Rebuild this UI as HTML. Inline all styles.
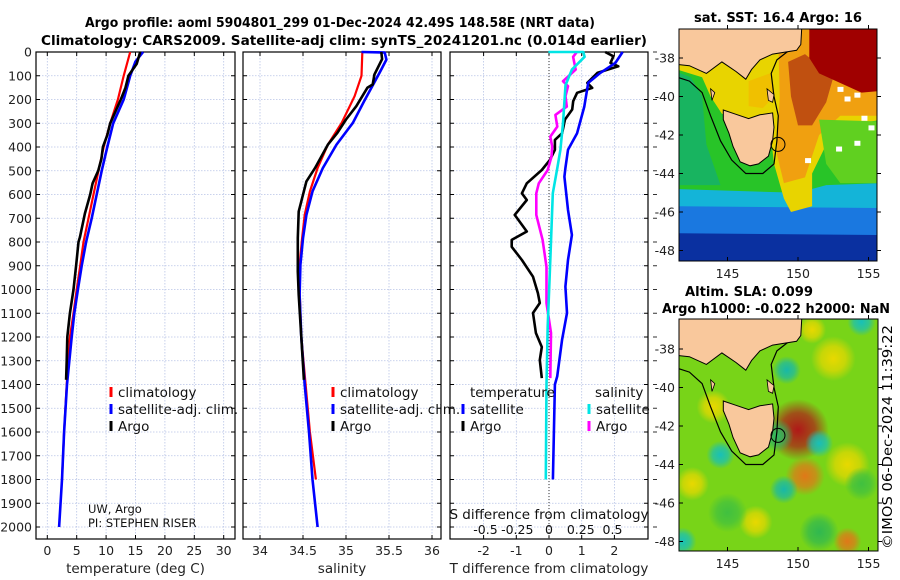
<!DOCTYPE html>
<html><head><meta charset="utf-8"><style>
html,body{margin:0;padding:0;background:#fff;}
svg{display:block;font-family:"DejaVu Sans","Liberation Sans",sans-serif;}
</style></head><body>
<svg id="fig" width="900" height="580" viewBox="0 0 900 580" xmlns="http://www.w3.org/2000/svg">
<g font-weight="bold" font-size="13.5" text-anchor="middle">
<text x="340" y="27" textLength="510" lengthAdjust="spacingAndGlyphs">Argo profile: aoml 5904801_299 01-Dec-2024 42.49S 148.58E (NRT data)</text>
<text x="344" y="45" textLength="606" lengthAdjust="spacingAndGlyphs">Climatology: CARS2009. Satellite-adj clim: synTS_20241201.nc (0.014d earlier)</text>
<text x="778" y="22" textLength="168" lengthAdjust="spacingAndGlyphs">sat. SST: 16.4 Argo: 16</text>
<text x="749" y="296" textLength="128" lengthAdjust="spacingAndGlyphs">Altim. SLA: 0.099</text>
<text x="776" y="313" textLength="228" lengthAdjust="spacingAndGlyphs">Argo h1000: -0.022 h2000: NaN</text>
</g>
<g id="plots"></g>
<g id="maps"></g>
<text font-size="13" text-anchor="middle" transform="translate(892,437) rotate(-90)" textLength="224" lengthAdjust="spacingAndGlyphs">©IMOS 06-Dec-2024 11:39:22</text>
</svg>
<script>
// ---------- data ----------
const depthTicks=[0,100,200,300,400,500,600,700,800,900,1000,1100,1200,1300,1400,1500,1600,1700,1800,1900,2000];
const tempTicks=[0,5,10,15,20,25,30];
const salTicks=[34,34.5,35,35.5,36];
const salTickLabels=["34","34.5","35","35.5","36"];
const tdiffTicks=[-2,-1,0,1,2];
const sdiffTicks=[-0.5,-0.25,0,0.25,0.5];
const sdiffTickLabels=["-0.5","-0.25","0","0.25","0.5"];

const tClimDepth=[0,100,200,300,400,500,600,700,800,900,1000,1100,1200,1400,1600,1800];
const tClimVal=[14.1,13.0,12.0,10.7,9.6,8.7,7.85,7.0,6.15,5.6,5.0,4.45,3.85,3.3,2.85,2.5];
const tSatDepth=[0,40,100,200,300,400,500,600,700,800,900,1000,1100,1200,1400,1600,1800,2000];
const tSatVal=[16.3,15.0,14.1,13.0,11.2,10.2,9.25,8.4,7.55,6.6,5.85,5.2,4.6,4.15,3.35,2.85,2.5,2.0];
const tArgoDepth=[0,50,100,150,200,250,300,350,400,450,500,553,600,680,780,800,900,1000,1100,1200,1300,1380];
const tArgoVal=[15.8,15.2,13.8,13.3,12.5,11.6,10.7,10.2,9.45,9.2,8.65,7.7,7.3,6.4,5.55,5.3,4.9,4.45,3.85,3.4,3.3,3.2];

const sClimDepth=[0,5,100,186,298,390,489,587,686,784,896,1000,1200,1400,1600,1800];
const sClimVal=[35.19,35.19,35.18,35.10,34.95,34.79,34.67,34.58,34.52,34.49,34.46,34.46,34.48,34.53,34.58,34.65];
const sSatDepth=[0,2,32,88,207,298,390,489,587,686,784,896,1022,1200,1400,1600,1800,2000];
const sSatVal=[35.18,35.45,35.47,35.39,35.21,35.08,34.89,34.73,34.61,34.54,34.50,34.47,34.46,34.48,34.52,34.57,34.61,34.67];
const sArgoDepth=[0,30,95,137,150,228,284,340,390,489,545,601,672,784,924,1022,1200,1380];
const sArgoVal=[35.41,35.42,35.33,35.31,35.25,35.12,35.0,34.9,34.79,34.64,34.54,34.5,34.45,34.44,34.44,34.45,34.48,34.51];

const dTSatDepth=[0,46,88,130,230,342,412,489,525,665,770,876,988,1099,1211,1366,1400,1600,1800];
const dTSatVal=[2.25,2.03,1.57,1.2,1.08,0.86,0.58,0.5,0.47,0.58,0.7,0.58,0.5,0.55,0.4,0.25,0.18,0.15,0.12];
const dTArgoDepth=[0,18,46,60,88,130,151,172,207,242,284,342,370,412,454,497,553,595,623,686,756,791,820,876,946,1015,1057,1099,1183,1242,1297,1373];
const dTArgoVal=[1.72,1.97,1.88,2.12,1.48,1.17,1.32,0.86,0.74,0.71,0.49,0.4,0.18,0.18,0.03,-0.22,-0.68,-0.83,-0.68,-1.05,-0.68,-1.14,-1.14,-0.83,-0.49,-0.34,-0.28,-0.49,-0.4,-0.22,-0.28,-0.22];
const dSSatDepth=[0,0,20,74,140,300,412,489,595,876,1155,1400,1800];
const dSSatVal=[-0.005,0.27,0.28,0.18,0.13,0.11,0.09,0.065,0.03,0.01,-0.01,-0.02,-0.025];
const dSArgoDepth=[0,20,74,123,144,186,230,265,314,356,398,440,497,553,595,686,791,905,1057,1183,1373];
const dSArgoVal=[0.22,0.19,0.21,0.11,0.15,0.13,0.14,0.05,0.065,0.01,0.025,0.02,-0.01,-0.08,-0.1,-0.1,-0.05,-0.02,-0.02,0.016,0.01];

// ---------- helpers ----------
const NS="http://www.w3.org/2000/svg";
function mk(tag,attrs,parent){const e=document.createElementNS(NS,tag);for(const k in attrs)e.setAttribute(k,attrs[k]);if(parent)parent.appendChild(e);return e;}
const plots=document.getElementById('plots');
const Y0=52, Y1=539;
const yD=d=>52+d*0.2375;

function panel(name,x0,x1,xs,xticks,xlabels,xtitle,showY){
  const g=mk('g',{},plots);
  
  
  xticks.forEach(v=>{const gl=mk('line',{x1:xs(v),x2:xs(v),y1:Y0,y2:Y1,stroke:'#b8c4e6','stroke-width':0.8,'stroke-dasharray':'1.5,1.5'},g);
    });
  depthTicks.forEach(d=>{const gl=mk('line',{x1:x0,x2:x1,y1:yD(d),y2:yD(d),stroke:'#b8c4e6','stroke-width':0.8,'stroke-dasharray':'1.5,1.5'},g);
    });
  xticks.forEach((v,i)=>{mk('line',{x1:xs(v),x2:xs(v),y1:Y1,y2:Y1-4,stroke:'#000'},g);mk('line',{x1:xs(v),x2:xs(v),y1:Y0,y2:Y0+4,stroke:'#000'},g);
    const t=mk('text',{x:xs(v),y:555,'font-size':12.5,'text-anchor':'middle',fill:'#222'},g);t.textContent=xlabels[i];
    });
  depthTicks.forEach(d=>{mk('line',{x1:x0,x2:x0+4,y1:yD(d),y2:yD(d),stroke:'#000'},g);mk('line',{x1:x1,x2:x1-4,y1:yD(d),y2:yD(d),stroke:'#000'},g);
    if(showY){const t=mk('text',{x:32,y:yD(d)+4.5,'font-size':12.5,'text-anchor':'end',fill:'#222'},g);t.textContent=d;
      }});
  mk('rect',{x:x0,y:Y0,width:x1-x0,height:Y1-Y0,fill:'none',stroke:'#000','stroke-width':1.2},g);
  const tt=mk('text',{x:(x0+x1)/2,y:573,'font-size':13.5,'text-anchor':'middle',fill:'#222'},g);tt.textContent=xtitle;
  
  return g;
}
function line(g,name,depths,vals,xs,color,w){
  const p=depths.map((d,i)=>xs(vals[i]).toFixed(1)+','+yD(d).toFixed(1)).join(' ');
  const pl=mk('polyline',{points:p,fill:'none',stroke:color,'stroke-width':w,'stroke-linejoin':'round'},g);
  
  
}
function legend(g,x,y,color,label,name){
  mk('line',{x1:x,x2:x,y1:y-6,y2:y+4,stroke:color,'stroke-width':3},g);
  const t=mk('text',{x:x+7,y:y+4,'font-size':13.5,fill:'#111'},g);t.textContent=label;
  
}

const xT=v=>47.3+v*5.88;
const g1=panel('temperature-panel',36,235,xT,tempTicks,tempTicks.map(String),'temperature (deg C)',true);
line(g1,'temp-climatology-line',tClimDepth,tClimVal,xT,'#ff0000',2.2);
line(g1,'temp-satellite-line',tSatDepth,tSatVal,xT,'#0000ff',2.6);
line(g1,'temp-argo-line',tArgoDepth,tArgoVal,xT,'#000',2.6);
legend(g1,111,393,'#ff0000','climatology','legend-climatology');
legend(g1,111,410,'#0000ff','satellite-adj. clim.','legend-satellite');
legend(g1,111,427,'#000','Argo','legend-argo');
{const t=mk('text',{x:88,y:513,'font-size':11.5,fill:'#111'},g1);t.textContent='UW, Argo';
 const t2=mk('text',{x:88,y:527,'font-size':11.5,fill:'#111'},g1);t2.textContent='PI: STEPHEN RISER';}

const xS=v=>260+(v-34)*86;
const g2=panel('salinity-panel',243,441,xS,salTicks,salTickLabels,'salinity',false);
line(g2,'sal-climatology-line',sClimDepth,sClimVal,xS,'#ff0000',2.2);
line(g2,'sal-satellite-line',sSatDepth,sSatVal,xS,'#0000ff',2.6);
line(g2,'sal-argo-line',sArgoDepth,sArgoVal,xS,'#000',2.6);
legend(g2,333,393,'#ff0000','climatology','legend-climatology');
legend(g2,333,410,'#0000ff','satellite-adj. clim.','legend-satellite');
legend(g2,333,427,'#000','Argo','legend-argo');

const xDT=v=>549+v*32.7;
const xDS=v=>549+v*127;
const g3=panel('difference-panel',450,648,xDT,tdiffTicks,tdiffTicks.map(String),'T difference from climatology',false);
mk('line',{x1:549,x2:549,y1:Y0,y2:Y1,stroke:'#333','stroke-width':1,'stroke-dasharray':'1,2'},g3);
line(g3,'dT-argo-line',dTArgoDepth,dTArgoVal,xDT,'#000',2.6);
line(g3,'dS-argo-line',dSArgoDepth,dSArgoVal,xDS,'#ff00ff',2.6);
line(g3,'dS-satellite-line',dSSatDepth,dSSatVal,xDS,'#00e5e5',2.6);
line(g3,'dT-satellite-line',dTSatDepth,dTSatVal,xDT,'#0000ff',2.6);
{const t=mk('text',{x:470,y:397,'font-size':13.5,fill:'#111'},g3);t.textContent='temperature';
 const t2=mk('text',{x:595,y:397,'font-size':13.5,fill:'#111'},g3);t2.textContent='salinity';}
legend(g3,463,410,'#0000ff','satellite','legend-t-satellite');
legend(g3,463,427,'#000','Argo','legend-t-argo');
legend(g3,589,410,'#00e5e5','satellite','legend-s-satellite');
legend(g3,589,427,'#ff00ff','Argo','legend-s-argo');
{const t=mk('text',{x:549,y:519,'font-size':13.5,'text-anchor':'middle',fill:'#111'},g3);t.textContent='S difference from climatology';
 sdiffTicks.forEach((v,i)=>{const s=mk('text',{x:xDS(v),y:534,'font-size':12.5,'text-anchor':'middle',fill:'#111'},g3);s.textContent=sdiffTickLabels[i];
  });
 depthTicks.forEach(d=>{mk('line',{x1:653,x2:657,y1:yD(d),y2:yD(d),stroke:'#333'},g3);});}

// ---------- maps ----------
const maps=document.getElementById('maps');
function map(name,mx0,my0,mx1,my1,latRef,latY,kind){
  const g=mk('g',{},maps);
  
  
  const X=lon=>727.5+(lon-145)*14.1;
  const Y=lat=>latY+(latRef-lat)*19.25;
  const P=pts=>pts.map(p=>X(p[0]).toFixed(1)+','+Y(p[1]).toFixed(1)).join(' ');
  const cid='clip'+name;
  const cp=mk('clipPath',{id:cid},g);mk('rect',{x:mx0,y:my0,width:mx1-mx0,height:my1-my0},cp);
  const f=mk('g',{'clip-path':'url(#'+cid+')'},g);
  const defs=mk('defs',{},g);
  if(kind==='sst'){
    mk('rect',{x:mx0,y:my0,width:mx1-mx0,height:my1-my0,fill:'#28c428'},f);
    mk('polygon',{points:P([[141,-38.6],[142.4,-39],[143.2,-40],[143.5,-42.5],[144.5,-44.6],[141,-44.6]]),fill:'#18b460'},f);
    mk('polygon',{points:P([[141,-44.8],[150,-45],[152,-44.6],[156,-44.5],[156,-46.3],[141,-46.3]]),fill:'#14b4d8'},f);
    mk('polygon',{points:P([[141,-45.7],[156,-45.8],[156,-47.3],[141,-47.3]]),fill:'#1a78e0'},f);
    mk('polygon',{points:P([[141,-47.1],[156,-47.2],[156,-49],[141,-49]]),fill:'#0a30a0'},f);
    mk('polygon',{points:P([[141,-36],[150,-36],[156,-39],[156,-41.2],[153.5,-41.5],[152,-42.5],[151,-44],[151,-45.7],[149.5,-46],[149,-45.3],[148.3,-43.5],[148,-41.5],[146,-41.3],[144.6,-40.9],[143.8,-40],[143.2,-39],[141,-38.5]]),fill:'#e8d400'},f);
    mk('polygon',{points:P([[146.5,-39.2],[148,-38.8],[148.3,-40],[147.5,-40.6],[146.5,-40.5]]),fill:'#f0c000'},f);
    mk('polygon',{points:P([[148.6,-37],[150.5,-36],[156,-38.5],[156,-41],[153,-41],[151.5,-42],[150.5,-44.2],[149,-44.5],[148.5,-43],[148.7,-40]]),fill:'#f0a010'},f);
    mk('polygon',{points:P([[149.3,-38.2],[150.5,-37.8],[152.5,-39],[152,-40.3],[151,-41.5],[150,-41.5],[149.5,-40]]),fill:'#c05010'},f);
    mk('polygon',{points:P([[150.8,-36],[156,-36],[156,-39.7],[154.5,-39.8],[153,-39.3],[151.5,-38.8],[150.8,-38]]),fill:'#a00000'},f);
    mk('polygon',{points:P([[151.5,-41.2],[156,-41.3],[156,-44.5],[153,-44.5],[152,-43.5]]),fill:'#60d020'},f);
    [[152.8,-39.5],[153.3,-40],[154,-39.8],[154.5,-41],[155,-41.5],[154,-42.3],[152.7,-42.6],[150.5,-43.2]].forEach(p=>mk('rect',{x:X(p[0]),y:Y(p[1]),width:6,height:5,fill:'#fff'},f));
  } else {
    mk('rect',{x:mx0,y:my0,width:mx1-mx0,height:my1-my0,fill:'#78d418'},f);
    const blobs=[[150,-42.2,22,'#b01818'],[150.5,-44.6,14,'#e07818'],[153.5,-48,10,'#e07818'],[152.5,-38.5,16,'#e8d800'],[151,-37,10,'#e8d800'],[144,-41,12,'#e8d800'],[142.5,-45,12,'#e8d800'],[153.5,-44,16,'#e8d800'],[147,-47,12,'#e8d800'],
      [144.5,-43.5,10,'#18c0b8'],[151.5,-42.9,10,'#18c0b8'],[149.2,-39.1,10,'#18b8a8'],[149,-45.3,10,'#18b8a8'],[154.5,-36.6,10,'#18c0b8'],[141.8,-48,10,'#18c0b8'],[148.5,-42.5,12,'#30b860'],[145,-46.5,14,'#40c040'],[151.5,-47.5,14,'#30b850'],[154.5,-45,12,'#40c040']];
    blobs.forEach((b,i)=>{const gid='bg'+name+i;const rg=mk('radialGradient',{id:gid},defs);
      mk('stop',{offset:'0','stop-color':b[3],'stop-opacity':1},rg);mk('stop',{offset:'0.55','stop-color':b[3],'stop-opacity':0.7},rg);mk('stop',{offset:'1','stop-color':b[3],'stop-opacity':0},rg);
      mk('circle',{cx:X(b[0]),cy:Y(b[1]),r:b[2]*1.4,fill:'url(#'+gid+')'},f);});
  }
  mk('polyline',{points:P([[141,-38.9],[142.3,-39.2],[143.2,-39.8],[143.8,-41],[144.5,-42.3],[145.3,-43.3],[146.3,-44],[147.5,-44],[148.3,-43.5],[148.5,-42.3],[148.6,-41],[148.3,-40],[148.1,-38.8],[148.5,-38.1],[149.9,-37.3],[150.2,-36]]),fill:'none',stroke:'#000','stroke-width':1.2},f);
  const land=mk('polygon',{points:P([[141,-36],[150.3,-36],[150.2,-37.3],[149.9,-37.6],[148.2,-37.8],[147.3,-38.1],[146.7,-38.6],[146.3,-39.1],[145.6,-38.7],[144.6,-38.2],[143.5,-38.8],[142.3,-38.4],[141,-38.3]]),fill:'#f9c89c',stroke:'#000','stroke-width':1},f);
  
  const tas=mk('polygon',{points:P([[144.7,-40.7],[145.5,-40.9],[146.5,-41.15],[147.3,-40.95],[148.2,-40.85],[148.3,-41.6],[148.2,-42.3],[147.9,-43.1],[147.2,-43.5],[146.6,-43.6],[145.9,-43.4],[145.4,-42.6],[145.1,-41.9],[144.7,-41.2]]),fill:'#f9c89c',stroke:'#000','stroke-width':1},f);
  
  mk('polygon',{points:P([[147.8,-39.6],[148.3,-39.9],[148.2,-40.3],[147.9,-40.2]]),fill:'#f9c89c',stroke:'#000','stroke-width':0.8},f);
  mk('polygon',{points:P([[143.8,-39.6],[144.1,-39.8],[143.9,-40.2]]),fill:'#f9c89c',stroke:'#000','stroke-width':0.8},f);
  const ring=mk('circle',{cx:X(148.58),cy:Y(-42.49),r:7,fill:'none',stroke:'#000','stroke-width':1},f);
  
  mk('rect',{x:mx0,y:my0,width:mx1-mx0,height:my1-my0,fill:'none',stroke:'#000','stroke-width':1},g);
  [145,150,155].forEach(lon=>{mk('line',{x1:X(lon),x2:X(lon),y1:my1,y2:my1-4,stroke:'#000'},g);mk('line',{x1:X(lon),x2:X(lon),y1:my0,y2:my0-4,stroke:'#000'},g);
    const t=mk('text',{x:X(lon),y:my1+17,'font-size':12.5,'text-anchor':'middle',fill:'#222'},g);t.textContent=lon;
    });
  [-38,-40,-42,-44,-46,-48].forEach(lat=>{mk('line',{x1:mx0,x2:mx0+4,y1:Y(lat),y2:Y(lat),stroke:'#000'},g);mk('line',{x1:mx1,x2:mx1+4,y1:Y(lat),y2:Y(lat),stroke:'#000'},g);
    const t=mk('text',{x:mx0-4,y:Y(lat)+4.5,'font-size':12.5,'text-anchor':'end',fill:'#222'},g);t.textContent=lat;
    });
}
map('sst-map',679,29,877,261,-38,58,'sst');
map('sla-map',679,319,878,551,-38,349,'sla');
</script>
</body></html>
